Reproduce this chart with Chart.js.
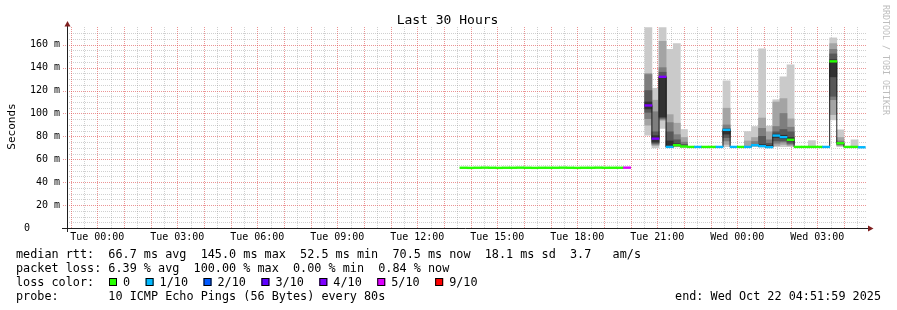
<!DOCTYPE html>
<html>
<head>
<meta charset="utf-8">
<title>Last 30 Hours</title>
<script src="https://cdn.jsdelivr.net/npm/chart.js@4/dist/chart.umd.min.js"></script>
<style>
  html, body { margin: 0; padding: 0; background: #fff; }
</style>
</head>
<body>
<canvas id="ping" width="897" height="310"></canvas>
<script>
// ─── DATA ─────────────────────────────────────────────────────────────────────
// 16-minute consolidated bins (12 x 80s steps), start time of each bin
const BIN_MINUTES = 16;
const BIN_START = [
  'Tue 13:36','Tue 13:52','Tue 14:08','Tue 14:24','Tue 14:40','Tue 14:56','Tue 15:12','Tue 15:28',
  'Tue 15:44','Tue 16:00','Tue 16:16','Tue 16:32','Tue 16:48','Tue 17:04','Tue 17:20','Tue 17:36',
  'Tue 17:52','Tue 18:08','Tue 18:24','Tue 18:40','Tue 18:56','Tue 19:12','Tue 19:28','Tue 19:44',
  'Tue 20:32','Tue 20:48','Tue 21:04','Tue 21:20','Tue 21:36','Tue 21:52','Tue 22:08','Tue 22:24',
  'Tue 22:40','Tue 22:56','Tue 23:12','Tue 23:28','Tue 23:44','Wed 00:00','Wed 00:16','Wed 00:32',
  'Wed 00:48','Wed 01:04','Wed 01:20','Wed 01:36','Wed 01:52','Wed 02:08','Wed 02:24','Wed 02:40',
  'Wed 02:56','Wed 03:12','Wed 03:28','Wed 03:44','Wed 04:00','Wed 04:16','Wed 04:32'
];

// median rtt (ms)
const MEDIAN = [
  52.6,52.5,52.6,52.7,52.6,52.5,52.6,52.6, 52.7,52.6,52.5,52.6,52.6,52.6,52.7,52.6,
  52.5,52.6,52.6,52.7,52.6,52.6,52.6,52.7,
  107,78,132,70.8,72.3,71.2,70.8,70.8, 70.8,70.8,70.8,85.7,70.8,70.8,70.8,72.3,
  71.5,70.6,80.7,79.3,77,70.8,70.8,70.8, 70.8,70.8,145.5,74,70.8,70.8,70.5
];

// lost pings out of 10
const LOSS = [
  0,0,0,0,0,0,0,0, 0,0,0,0,0,0,0,0, 0,0,0,0,0,0,0,5,
  4,4,4,1,0,0,0,1, 0,0,1,1,1,0,1,1, 1,1,1,1,0,0,0,0, 0,1,0,0,0,0,1
];

// smoke: sorted ping pairs, outermost (p1..p10) to innermost (p5..p6), ms
const SMOKE_1 = [
  null,null,null,null,null,null,null,null, null,null,null,null,null,null,null,null,
  null,null,null,null,null,null,null,null,
  [81,175],[70,122],[87,175],[70.5,156],[70.8,161],[70.5,86],null,null,
  null,null,null,[71,128.5],null,null,[70.5,84.2],[71,88.6],
  [70.5,156.5],[70.3,89],[71,112],[71,132],[71,142.5],null,null,[70.5,76.3],
  null,null,[94.4,166],[71,85.7],null,[70.5,77],null
];
const SMOKE_2 = [
  null,null,null,null,null,null,null,null, null,null,null,null,null,null,null,null,
  null,null,null,null,null,null,null,null,
  [89.8,135],[72,111.6],[94,163],[70.8,99],[71,91.5],[70.8,79],null,null,
  null,null,null,[73,104.6],null,null,[70.8,76],[71.5,79],
  [71,96],[70.5,84],[72,110],[73,113],[72,95.3],null,null,null,
  null,null,[99,161],[72,79],null,null,null
];
const SMOKE_3 = [
  null,null,null,null,null,null,null,null, null,null,null,null,null,null,null,null,
  null,null,null,null,null,null,null,null,
  [95.5,134],[73,101.5],[95,140],[70.8,92],[71.5,81.5],[70.8,75],null,null,
  null,null,null,[76,90],null,null,null,[72,75.5],
  [71,87],[70.5,77],[74,88.6],[75,100],[73,88],null,null,null,
  null,null,[112,156],[72.5,76],null,null,null
];
const SMOKE_4 = [
  null,null,null,null,null,null,null,null, null,null,null,null,null,null,null,null,
  null,null,null,null,null,null,null,null,
  [101,120],[74,84],[96,136],[70.8,84],[72,77],[71,73],null,null,
  null,null,null,[79,87],null,null,null,null,
  [71,80],[70.5,74],[76,84],[76,86],[74,84],null,null,null,
  null,null,[115,152],[73,74.5],null,null,null
];
const SMOKE_5 = [
  null,null,null,null,null,null,null,null, null,null,null,null,null,null,null,null,
  null,null,null,null,null,null,null,null,
  [104,110],[75,80.6],[97,131],[70.8,76],[72,73.5],null,null,null,
  null,null,null,[82,86],null,null,null,null,
  [71,73],[70.5,72],[79,82],[78,81],[76,79],null,null,null,
  null,null,[132,147],null,null,null,null
];

// axis ticks
const X_TICK_AT   = [0, 3, 6, 9, 12, 15, 18, 21, 24, 27];
const X_TICK_TEXT = ['Tue 00:00','Tue 03:00','Tue 06:00','Tue 09:00','Tue 12:00',
                     'Tue 15:00','Tue 18:00','Tue 21:00','Wed 00:00','Wed 03:00'];
const Y_TICK_AT   = [0, 20, 40, 60, 80, 100, 120, 140, 160];
const Y_TICK_TEXT = ['0     ','20 m','40 m','60 m','80 m','100 m','120 m','140 m','160 m'];

// legend texts
const LOSS_KEYS   = [0, 1, 2, 3, 4, 5, 9];
const LOSS_LABELS = ['0','1/10','2/10','3/10','4/10','5/10','9/10'];
const LOSS_COLORS = { 0:'#26ff00', 1:'#00b8ff', 2:'#0059ff', 3:'#5e00ff', 4:'#7e00ff', 5:'#dd00ff', 9:'#ff0000' };
const STAT_LINES = [
  'median rtt:  66.7 ms avg  145.0 ms max  52.5 ms min  70.5 ms now  18.1 ms sd  3.7   am/s',
  'packet loss: 6.39 % avg  100.00 % max  0.00 % min  0.84 % now',
  'loss color:',
  'probe:       10 ICMP Echo Pings (56 Bytes) every 80s'
];
const END_TEXT = 'end: Wed Oct 22 04:51:59 2025';

// ─── HELPERS ──────────────────────────────────────────────────────────────────
const MONO = '"DejaVu Sans Mono", monospace';
const SMOKE_SHADES = ['#cacaca', '#a4a4a4', '#7e7e7e', '#585858', '#323232'];
const GRID_MINOR = 'rgba(143,143,143,0.42)';
const GRID_MAJOR = 'rgba(222,79,79,0.6)';

// hours relative to Tue 00:00
function toHours(label) {
  const [day, hm] = label.split(' ');
  const [h, m] = hm.split(':').map(Number);
  return (day === 'Wed' ? 24 : 0) + h + m / 60;
}

const X_MAX = toHours('Wed 04:52') - 1 / 3600;   // end: 04:51:59
const X_MIN = X_MAX - 30;                         // last 30 hours
const binH = BIN_MINUTES / 60;
const binX = BIN_START.map(toHours);
const centerX = binX.map(h => h + binH / 2);

function smokeSet(band, i) {
  return {
    type: 'bar',
    data: band.map((r, k) => r ? { x: centerX[k], y: r } : null).filter(Boolean),
    backgroundColor: SMOKE_SHADES[i],
    borderWidth: 0,
    grouped: false,
    categoryPercentage: 1,
    barPercentage: 1,
    order: 10 - i
  };
}

// black step line that joins the median values
const medianPath = [];
binX.forEach((h, k) => {
  if (k > 0 && h - binX[k - 1] > binH + 1e-6) {
    medianPath.push({ x: binX[k - 1] + binH, y: MEDIAN[k - 1] });
    medianPath.push({ x: (binX[k - 1] + binH + h) / 2, y: null });
  }
  medianPath.push({ x: h, y: MEDIAN[k] });
});
medianPath.push({ x: binX[binX.length - 1] + binH, y: MEDIAN[MEDIAN.length - 1] });

// ─── RRDTOOL STYLE GRID ───────────────────────────────────────────────────────
const rrdGrid = {
  id: 'rrdGrid',
  beforeDatasetsDraw(chart) {
    const { ctx, chartArea: a, scales: { x, y } } = chart;
    ctx.save();
    ctx.lineWidth = 1;
    ctx.setLineDash([1, 1]);
    const drawV = (v, color) => {
      const px = Math.round(x.getPixelForValue(v)) + 0.5;
      ctx.strokeStyle = color;
      ctx.beginPath(); ctx.moveTo(px, a.top); ctx.lineTo(px, a.bottom); ctx.stroke();
    };
    const drawH = (v, color, from) => {
      const py = Math.round(y.getPixelForValue(v)) + 0.5;
      ctx.strokeStyle = color;
      ctx.beginPath(); ctx.moveTo(from, py); ctx.lineTo(a.right, py); ctx.stroke();
    };
    x.ticks.forEach(t => { if (t.value % 1 !== 0) drawV(t.value, GRID_MINOR); });
    y.ticks.forEach(t => { if (t.value % 20 !== 0) drawH(t.value, GRID_MINOR, a.left); });
    x.ticks.forEach(t => { if (t.value % 1 === 0) drawV(t.value, GRID_MAJOR); });
    y.ticks.forEach(t => { if (t.value % 20 === 0 && t.value > 0) drawH(t.value, GRID_MAJOR, a.left - 4); });
    ctx.restore();
  }
};

// ─── DECORATION (axes, title, legend) ─────────────────────────────────────────
const rrdDecor = {
  id: 'rrdDecor',
  afterDraw(chart) {
    const { ctx, chartArea: a } = chart;
    ctx.save();

    // axes
    ctx.strokeStyle = '#1f1f1f';
    ctx.lineWidth = 1;
    ctx.beginPath();
    ctx.moveTo(a.left - 5, a.bottom + 0.5);
    ctx.lineTo(a.right + 2, a.bottom + 0.5);
    ctx.moveTo(a.left + 0.5, a.bottom + 4);
    ctx.lineTo(a.left + 0.5, a.top - 3);
    ctx.stroke();

    // arrows
    ctx.fillStyle = '#7f1f1f';
    ctx.beginPath();
    ctx.moveTo(a.right + 6.5, a.bottom + 0.5);
    ctx.lineTo(a.right + 1, a.bottom - 2.5);
    ctx.lineTo(a.right + 1, a.bottom + 3.5);
    ctx.closePath();
    ctx.fill();
    ctx.beginPath();
    ctx.moveTo(a.left + 0.5, a.top - 6);
    ctx.lineTo(a.left - 2.5, a.top - 0.5);
    ctx.lineTo(a.left + 3.5, a.top - 0.5);
    ctx.closePath();
    ctx.fill();

    // title
    ctx.fillStyle = '#000';
    ctx.textBaseline = 'alphabetic';
    ctx.textAlign = 'center';
    ctx.font = '13px ' + MONO;
    ctx.fillText('Last 30 Hours', 447.5, 24);

    // vertical label
    ctx.save();
    ctx.translate(14.5, 126.5);
    ctx.rotate(-Math.PI / 2);
    ctx.font = '11px ' + MONO;
    ctx.fillText('Seconds', 0, 0);
    ctx.restore();

    // watermark
    ctx.save();
    ctx.translate(883, 5);
    ctx.rotate(Math.PI / 2);
    ctx.textAlign = 'left';
    ctx.fillStyle = '#bdbdbd';
    ctx.font = '8.3px ' + MONO;
    ctx.fillText('RRDTOOL / TOBI OETIKER', 0, 0);
    ctx.restore();

    // legend lines
    ctx.textAlign = 'left';
    ctx.font = '11.8px ' + MONO;
    STAT_LINES.forEach((t, i) => ctx.fillText(t, 16, 258 + i * 14));
    ctx.textAlign = 'right';
    ctx.fillText(END_TEXT, 881, 300);

    // loss colour boxes
    ctx.textAlign = 'left';
    let x = 109;
    LOSS_KEYS.forEach((key, i) => {
      ctx.fillStyle = LOSS_COLORS[key];
      ctx.fillRect(x, 278, 8, 8);
      ctx.strokeStyle = '#000';
      ctx.strokeRect(x + 0.5, 278.5, 7, 7);
      ctx.fillStyle = '#000';
      ctx.fillText(LOSS_LABELS[i], x + 14, 286);
      x += 14 + ctx.measureText(LOSS_LABELS[i]).width + 15.5;
    });

    ctx.restore();
  }
};

// ─── CHART ────────────────────────────────────────────────────────────────────
Chart.defaults.font.family = MONO;
Chart.defaults.color = '#000';

new Chart(document.getElementById('ping'), {
  type: 'bar',
  data: {
    datasets: [
      ...[SMOKE_1, SMOKE_2, SMOKE_3, SMOKE_4, SMOKE_5].map(smokeSet),
      {
        type: 'line',
        data: medianPath,
        borderColor: '#202020',
        borderWidth: 1,
        pointRadius: 0,
        stepped: 'before',
        fill: false,
        spanGaps: false,
        order: 2
      },
      {
        type: 'bar',
        data: MEDIAN.map((m, k) => ({ x: centerX[k], y: [m - 0.75, m + 0.75] })),
        backgroundColor: LOSS.map(l => LOSS_COLORS[l]),
        borderWidth: 0,
        grouped: false,
        categoryPercentage: 1,
        barPercentage: 1,
        order: 1
      }
    ]
  },
  options: {
    responsive: false,
    devicePixelRatio: 1,
    animation: false,
    events: [],
    layout: { padding: { top: 27, right: 30, bottom: 0, left: 0 } },
    plugins: {
      legend: { display: false },
      tooltip: { enabled: false },
      title: { display: false }
    },
    scales: {
      x: {
        type: 'linear',
        min: X_MIN,
        max: X_MAX,
        offset: false,
        afterFit: s => { s.height = 82; },
        afterBuildTicks: s => {
          s.ticks = [];
          for (let v = -1; v <= 28.5; v += 0.5) s.ticks.push({ value: v });
        },
        grid: { offset: false, display: false, drawTicks: false },
        border: { display: false },
        ticks: {
          autoSkip: false,
          maxRotation: 0,
          padding: 3,
          font: { size: 10, family: MONO },
          callback: v => {
            const i = X_TICK_AT.indexOf(v);
            return i >= 0 ? X_TICK_TEXT[i] : '';
          }
        }
      },
      y: {
        type: 'linear',
        min: 0,
        max: 175.5,
        afterFit: s => { s.width = 67; },
        afterBuildTicks: s => {
          s.ticks = [];
          for (let v = 0; v <= 170; v += 5) s.ticks.push({ value: v });
        },
        grid: { display: false, drawTicks: false },
        border: { display: false },
        ticks: {
          autoSkip: false,
          padding: 7,
          font: { size: 10, family: MONO },
          callback: v => {
            const i = Y_TICK_AT.indexOf(v);
            return i >= 0 ? Y_TICK_TEXT[i] : '';
          }
        }
      }
    }
  },
  plugins: [rrdGrid, rrdDecor]
});
</script>
</body>
</html>
